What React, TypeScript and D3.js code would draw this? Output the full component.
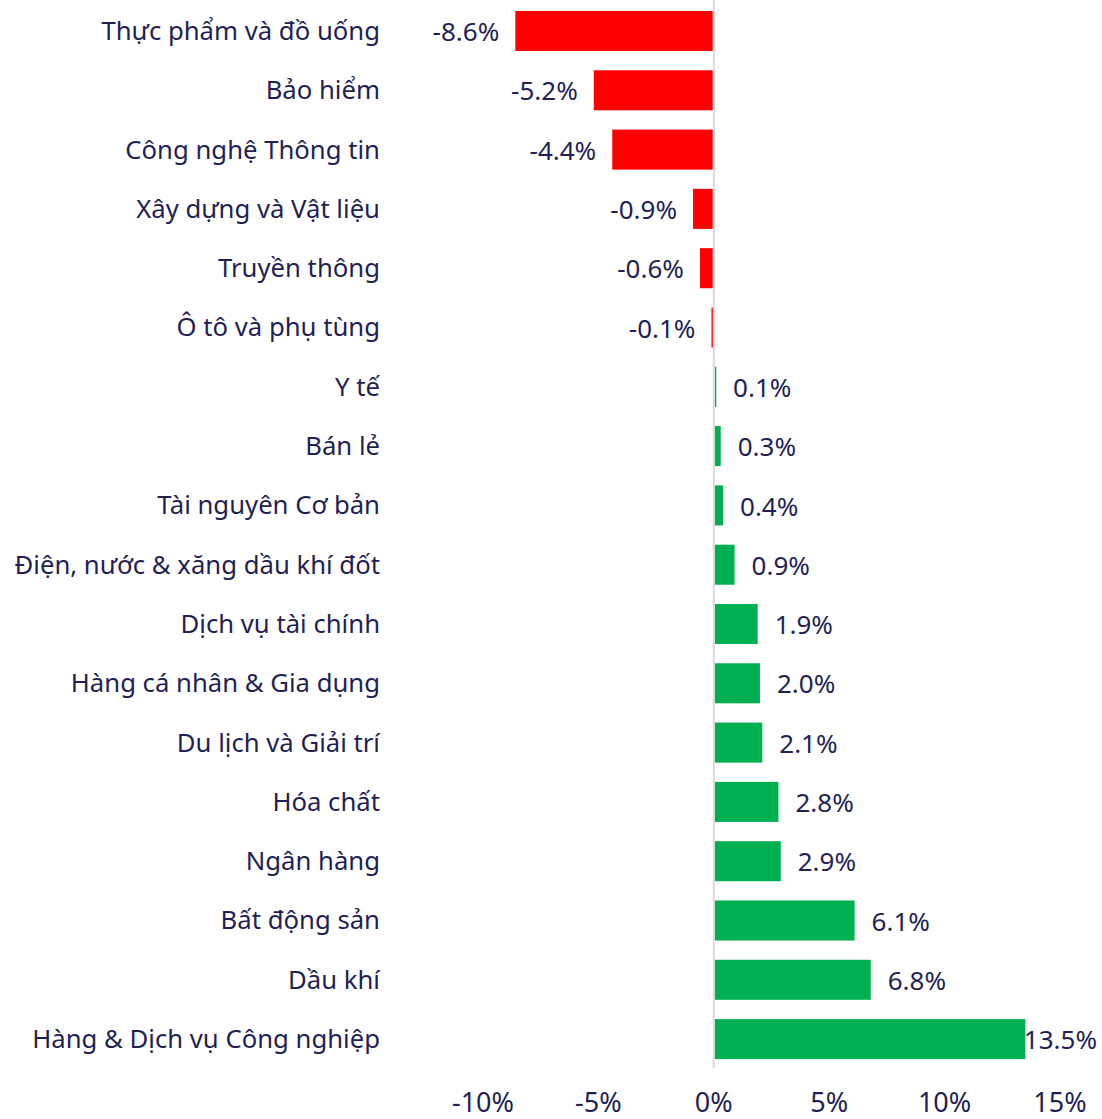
import React from "react";
import * as d3 from "d3";

const categories = [
  "Thực phẩm và đồ uống",
  "Bảo hiểm",
  "Công nghệ Thông tin",
  "Xây dựng và Vật liệu",
  "Truyền thông",
  "Ô tô và phụ tùng",
  "Y tế",
  "Bán lẻ",
  "Tài nguyên Cơ bản",
  "Điện, nước & xăng dầu khí đốt",
  "Dịch vụ tài chính",
  "Hàng cá nhân & Gia dụng",
  "Du lịch và Giải trí",
  "Hóa chất",
  "Ngân hàng",
  "Bất động sản",
  "Dầu khí",
  "Hàng & Dịch vụ Công nghiệp",
];
const values = [-8.6, -5.2, -4.4, -0.9, -0.6, -0.1, 0.1, 0.3, 0.4, 0.9, 1.9, 2.0, 2.1, 2.8, 2.9, 6.1, 6.8, 13.5];
const ticks = [-10, -5, 0, 5, 10, 15];

const W = 1102;
const H = 1119;
const TEXT = "#231F55";
const FONT = "'Noto Sans', sans-serif";

export default function App() {
  const x = d3.scaleLinear().domain([-10, 15]).range([483, 1060]);
  const y = d3.scaleBand<string>().domain(categories).range([1.35, 1068.75]).paddingInner(0.325).paddingOuter(0.1625);
  const bw = y.bandwidth();
  const fmt = (v: number) => `${v.toFixed(1)}%`;
  return (
    <svg width={W} height={H} style={{ position: "absolute", left: 0, top: 0, background: "#fff" }} fontFamily={FONT}>
      {categories.map((c, i) => {
        const v = values[i];
        const y0 = y(c)!;
        const x0 = x(Math.min(0, v));
        const x1 = x(Math.max(0, v));
        const cy = y0 + bw / 2;
        const pos = v >= 0;
        let lx = pos ? x1 + 17 : x0 - 16;
        let anchor: "start" | "end" = pos ? "start" : "end";
        if (pos && lx + 70 > W - 4) {
          lx = W - 5;
          anchor = "end";
        }
        return (
          <g key={c}>
            <rect x={pos ? x0 + 1 : x0} y={y0} width={Math.max(1.5, x1 - x0 - 1)} height={bw} fill={pos ? "#00B050" : "#FF0000"} />
            <text x={380} y={cy} dy="0.35em" textAnchor="end" fontSize={25.7} fill={TEXT}>{c}</text>
            <text x={lx} y={cy + 1} dy="0.35em" textAnchor={anchor} fontSize={26} fill={TEXT}>{fmt(v)}</text>
          </g>
        );
      })}
      <line x1={x(0)} x2={x(0)} y1={0} y2={1068} stroke="#D9D9D9" strokeWidth={2} />
      {ticks.map((t) => (
        <text key={t} x={x(t)} y={1112} textAnchor="middle" fontSize={27} fill={TEXT}>{`${t}%`}</text>
      ))}
    </svg>
  );
}
